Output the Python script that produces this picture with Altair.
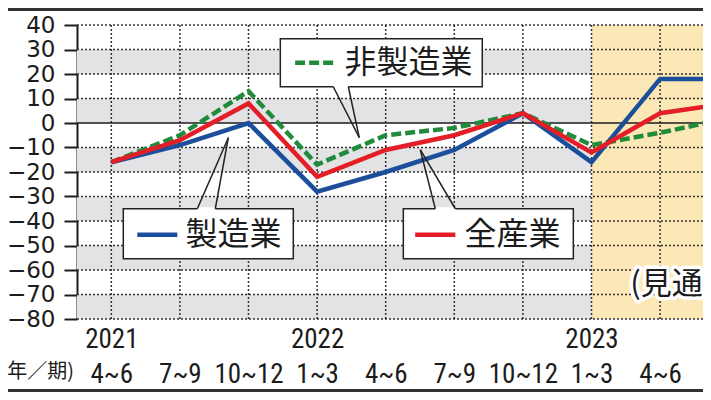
import altair as alt
import pandas as pd

# ---- data ----
years = ["2021", "", "", "2022", "", "", "", "2023", "", ""]
periods = ["4~6", "7~9", "10~12", "1~3", "4~6", "7~9", "10~12", "1~3", "4~6", "7~9"]
manufacturing = [-16, -9, 0, -28, -20, -11, 4, -16, 18, 18]
all_industries = [-16, -7, 8, -22, -11, -5, 4, -12, 4, 8]
non_manufacturing = [-16, -5, 13, -17, -5, -2, 4, -9, -4, 2]
series_names = ["製造業", "全産業", "非製造業"]
forecast_label = "(見通し)"
unit_label = "(年／期)"
forecast_start = 7
y_ticks = list(range(-80, 41, 10))
stripe_hi = [30, 10, -10, -30, -50, -70]
stripe_lo = [20, 0, -20, -40, -60, -80]

# ---- styles ----
BLUE, RED, GREEN = "#1B4F9C", "#E41E26", "#1F8B3B"
GRAY, YELLOW, INK = "#E3E3E5", "#FCE8B6", "#1c1c1c"
W, H = 626, 294
JP = "Noto Sans CJK JP"

x_scale = alt.Scale(domain=[-0.5, 8.6254], nice=False, zero=False)
y_scale = alt.Scale(domain=[-80, 40], nice=False, zero=False)

js = lambda lst: "[" + ",".join('"%s"' % s for s in lst) + "]"
x_axis = alt.Axis(
    values=list(range(len(periods))), title=None, domain=False, ticks=False, tickSize=0,
    grid=False, labelExpr=f"[{js(years)}[datum.value], {js(periods)}[datum.value]]",
    labelFont="Liberation Sans Narrow, Roboto Condensed, Roboto", labelFontSize=27,
    labelFontWeight="normal",
    labelColor=INK, labelBaseline="top", labelPadding=7, labelLineHeight=35,
    labelFlush=False, labelOverlap=False, labelAlign="center",
)
y_axis = alt.Axis(
    values=y_ticks, title=None, grid=False, format="d", labelFont="DejaVu Sans",
    labelFontSize=23, labelColor=INK, labelPadding=9, tickSize=13, tickWidth=2,
    tickColor=INK, domainColor=INK, domainWidth=2, labelFlush=False, labelOverlap=False,
)


def X(field=None, datum=None):
    if field is not None:
        return alt.X(field, type="quantitative", scale=x_scale, axis=x_axis)
    return alt.X(datum=datum, type="quantitative", scale=x_scale, axis=x_axis)


def Y(field=None, datum=None):
    if field is not None:
        return alt.Y(field, type="quantitative", scale=y_scale, axis=y_axis)
    return alt.Y(datum=datum, type="quantitative", scale=y_scale, axis=y_axis)


one = pd.DataFrame({"k": [0]})

df = pd.DataFrame({
    "idx": list(range(len(periods))),
    series_names[0]: manufacturing,
    series_names[1]: all_industries,
    series_names[2]: non_manufacturing,
}).melt(id_vars="idx", var_name="series", value_name="value")

stripes = alt.Chart(pd.DataFrame({"hi": stripe_hi, "lo": stripe_lo})).mark_rect(
    color=GRAY).encode(x=X(datum=-0.5), x2=alt.X2(datum=forecast_start), y=Y("hi"), y2="lo")

forecast = alt.Chart(one).mark_rect(color=YELLOW, clip=True).encode(
    x=X(datum=forecast_start), x2=alt.X2(datum=10), y=Y(datum=40), y2=alt.Y2(datum=-80))

hgrid = alt.Chart(pd.DataFrame({"v": [v for v in y_ticks if v != 0]})).mark_rule(
    color="#333", strokeDash=[2, 2], strokeWidth=1.5).encode(
    y=Y("v"), x=alt.value(0), x2=alt.value(W))

vgrid = alt.Chart(pd.DataFrame({"i": list(range(len(periods)))})).mark_rule(
    color="#333", strokeDash=[2, 2], strokeWidth=1.5, clip=True).encode(
    x=X("i"), y=alt.value(0), y2=alt.value(H))

zero = alt.Chart(one).mark_rule(color=INK, strokeWidth=1.5).encode(
    y=Y(datum=0), x=alt.value(0), x2=alt.value(W))


def series_line(name, color, dash=None):
    kw = dict(color=color, strokeWidth=4.5, clip=True, strokeJoin="miter")
    if dash:
        kw["strokeDash"] = dash
    return alt.Chart(df).transform_filter(alt.datum.series == name).mark_line(**kw).encode(
        x=X("idx"), y=Y("value"))


lines = [series_line(series_names[2], GREEN, [10, 4]),
         series_line(series_names[0], BLUE),
         series_line(series_names[1], RED)]


def callout(name, color, dash, box, tail, legend, text_x, text_y):
    (bx1, bx2, by1, by2) = box
    (t1, t2, ty, ax, ay) = tail
    (lx1, lx2) = legend
    d = pd.DataFrame({"name": [name]})
    rect = alt.Chart(d).mark_rect(fill="white", stroke="#222", strokeWidth=1.5).encode(
        x=X(datum=bx1), x2=alt.X2(datum=bx2), y=Y(datum=by1), y2=alt.Y2(datum=by2))
    cover = alt.Chart(d).mark_rule(color="white", strokeWidth=3).encode(
        x=X(datum=t1), x2=alt.X2(datum=t2), y=Y(datum=ty), y2=alt.Y2(datum=ty))
    tl1 = alt.Chart(d).mark_rule(color="#222", strokeWidth=1.5).encode(
        x=X(datum=t1), x2=alt.X2(datum=ax), y=Y(datum=ty), y2=alt.Y2(datum=ay))
    tl2 = alt.Chart(d).mark_rule(color="#222", strokeWidth=1.5).encode(
        x=X(datum=t2), x2=alt.X2(datum=ax), y=Y(datum=ty), y2=alt.Y2(datum=ay))
    kw = dict(color=color, strokeWidth=4.5)
    if dash:
        kw["strokeDash"] = dash
    leg = alt.Chart(d).mark_rule(**kw).encode(
        x=X(datum=lx1), x2=alt.X2(datum=lx2), y=Y(datum=text_y), y2=alt.Y2(datum=text_y))
    txt = alt.Chart(d).mark_text(align="left", baseline="middle", font=JP, fontSize=32,
                                 color=INK).encode(
        x=X(datum=text_x), y=Y(datum=text_y), text="name:N")
    return [rect, cover, tl1, tl2, leg, txt]


callouts = (
    callout(series_names[2], GREEN, [10, 4], (2.464, 5.408, 34.4, 14.8),
            (3.236, 3.455, 14.8, 3.615, -6.0), (2.68, 3.236), 3.40, 24.6)
    + callout(series_names[0], BLUE, None, (0.175, 2.653, -35.0, -55.4),
              (1.254, 1.516, -35.0, 1.706, -6.0), (0.379, 0.962), 1.08, -45.6)
    + callout(series_names[1], RED, None, (4.257, 6.735, -35.0, -55.4),
              (4.723, 5.015, -35.0, 4.504, -10.9), (4.43, 5.015), 5.15, -45.6)
)

fdf = pd.DataFrame({"t": [forecast_label]})
halo = alt.Chart(fdf).mark_text(align="left", baseline="middle", font=JP, fontSize=31,
                                color="white", stroke="white", strokeWidth=7,
                                strokeJoin="round", clip=True).encode(
    x=X(datum=7.566), y=Y(datum=-66), text="t:N")
ftxt = alt.Chart(fdf).mark_text(align="left", baseline="middle", font=JP, fontSize=31,
                                color=INK, clip=True).encode(
    x=X(datum=7.566), y=Y(datum=-66), text="t:N")

unit = alt.Chart(pd.DataFrame({"t": [unit_label]})).mark_text(
    align="right", baseline="middle", font=JP, fontSize=20, color=INK).encode(
    x=alt.value(-3), y=alt.value(347), text="t:N")

frame_top = alt.Chart(one).mark_rule(color="#333", strokeWidth=3).encode(
    x=alt.value(-70), x2=alt.value(W + 10), y=alt.value(-15.5))
frame_bot = alt.Chart(one).mark_rule(color="#333", strokeWidth=3).encode(
    x=alt.value(-70), x2=alt.value(W + 10), y=alt.value(365.5))

chart = alt.layer(
    stripes, forecast, hgrid, vgrid, zero, *lines, *callouts, halo, ftxt, unit,
    frame_top, frame_bot,
).properties(
    width=W, height=H,
    autosize=alt.AutoSizeParams(type="none"),
    padding={"left": 69, "top": 17, "right": 0, "bottom": 73},
    background="white",
).configure_view(strokeWidth=0)

chart.save("out.html", embed_options={"renderer": "svg", "actions": False})
